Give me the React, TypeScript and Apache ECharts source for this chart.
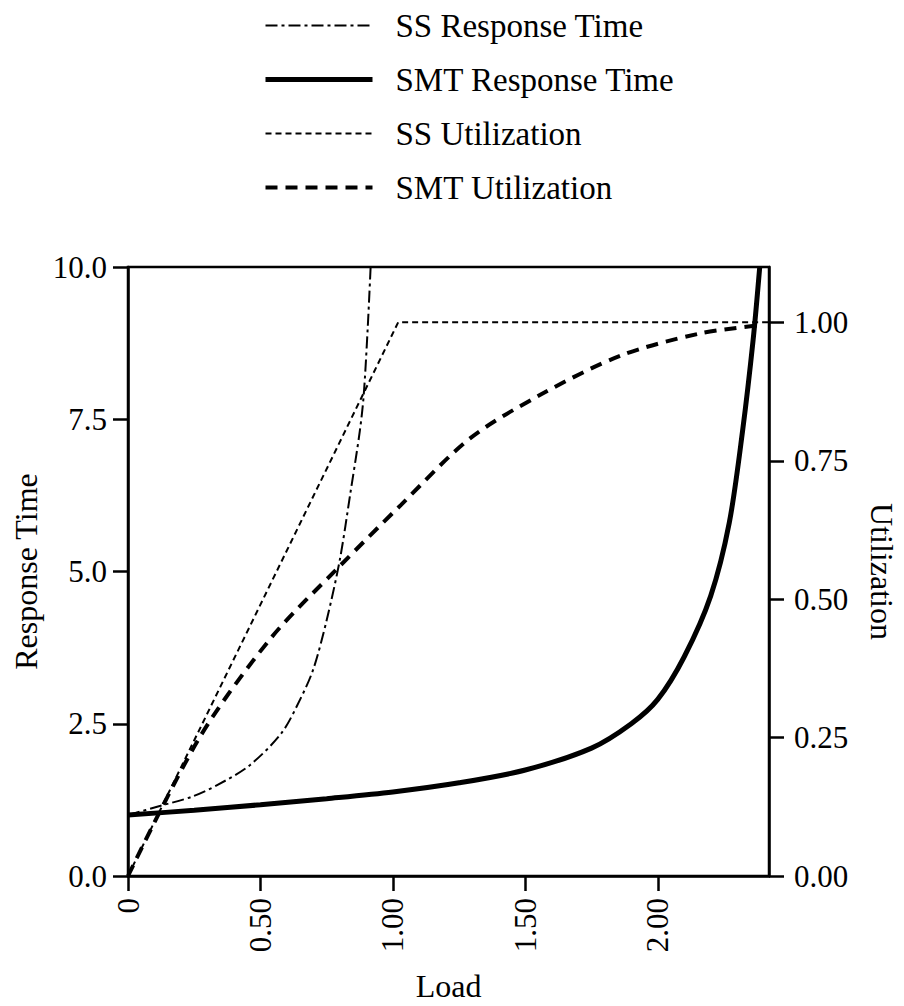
import React, { useEffect, useRef } from "react";
import * as echarts from "echarts";

const FONT = "Liberation Serif";

const seriesNames = ["SS Response Time", "SMT Response Time", "SS Utilization", "SMT Utilization"];

// Load (x) and response time (left axis)
const ssResponse: [number, number][] = [
  [0, 1.0], [0.12, 1.15], [0.24, 1.3], [0.34, 1.5], [0.46, 1.82], [0.58, 2.35],
  [0.65, 2.9], [0.7, 3.4], [0.75, 4.2], [0.8, 5.2], [0.84, 6.3], [0.875, 7.3],
  [0.89, 7.9], [0.905, 9.0], [0.916, 10.0],
];
const smtResponse: [number, number][] = [
  [0, 1.0], [0.25, 1.08], [0.5, 1.17], [0.75, 1.27], [1.0, 1.38], [1.25, 1.53],
  [1.5, 1.74], [1.75, 2.1], [1.9, 2.5], [2.0, 2.9], [2.1, 3.6], [2.2, 4.6],
  [2.27, 5.8], [2.32, 7.3], [2.36, 8.8], [2.385, 10.0],
];
// Load (x) and utilization (right axis)
const ssUtil: [number, number][] = [[0, 0], [1.02, 1.0], [2.42, 1.0]];
const smtUtil: [number, number][] = [
  [0, 0], [0.27, 0.25], [0.54, 0.43], [0.8, 0.56], [1.03, 0.67], [1.29, 0.79],
  [1.56, 0.87], [1.86, 0.94], [2.16, 0.98], [2.39, 0.995],
];

const xTicks = [0, 0.5, 1.0, 1.5, 2.0];
const leftTicks = [0, 2.5, 5.0, 7.5, 10.0];
const rightTicks = [0, 0.25, 0.5, 0.75, 1.0];

export default function App() {
  const ref = useRef<HTMLDivElement>(null);
  useEffect(() => {
    const chart = echarts.init(ref.current!, null, { renderer: "svg" });
    const axisLine = { show: true, lineStyle: { color: "#000", width: 2.5 } };
    const axisTick = { show: true, length: 15, lineStyle: { color: "#000", width: 2.5 } };
    const labelStyle = { color: "#000", fontFamily: FONT, fontSize: 31 };
    const nameStyle = { color: "#000", fontFamily: FONT, fontSize: 32 };
    chart.setOption({
      animation: false,
      backgroundColor: "#fff",
      legend: {
        orient: "vertical",
        left: 258,
        top: 4,
        itemWidth: 107,
        itemHeight: 14,
        itemGap: 21,
        data: seriesNames,
        itemStyle: { opacity: 0 },
        lineStyle: { width: "inherit" },
        textStyle: { color: "#000", fontFamily: FONT, fontSize: 33, lineHeight: 32, padding: [0, 0, 0, 18] },
      },
      grid: {
        left: 128,
        right: 135,
        top: 267,
        bottom: 130,
        containLabel: false,
        outerBoundsMode: "none",
        show: true,
        borderColor: "#000",
        borderWidth: 2.5,
      },
      xAxis: {
        type: "value",
        min: 0,
        max: 2.42,
        name: "Load",
        nameLocation: "middle",
        nameGap: 94,
        nameTextStyle: nameStyle,
        splitLine: { show: false },
        axisLine,
        axisTick: { ...axisTick, customValues: xTicks },
        axisLabel: {
          ...labelStyle,
          rotate: 90,
          margin: 22,
          customValues: xTicks,
          formatter: (v: number) => (v === 0 ? "0" : v.toFixed(2)),
        },
      },
      yAxis: [
        {
          type: "value",
          min: 0,
          max: 10,
          position: "left",
          name: "Response Time",
          nameLocation: "middle",
          nameGap: 75,
          nameRotate: 90,
          nameTextStyle: nameStyle,
          splitLine: { show: false },
          axisLine,
          axisTick: { ...axisTick, customValues: leftTicks },
          axisLabel: {
            ...labelStyle,
            margin: 21,
            customValues: leftTicks,
            formatter: (v: number) => v.toFixed(1),
          },
        },
        {
          type: "value",
          min: 0,
          max: 1.1,
          position: "right",
          name: "Utilization",
          nameLocation: "middle",
          nameGap: 97,
          nameRotate: -90,
          nameTextStyle: nameStyle,
          splitLine: { show: false },
          axisLine,
          axisTick: { ...axisTick, customValues: rightTicks },
          axisLabel: {
            ...labelStyle,
            margin: 25,
            customValues: rightTicks,
            formatter: (v: number) => v.toFixed(2),
          },
        },
      ],
      series: [
        {
          name: seriesNames[0],
          type: "line",
          yAxisIndex: 0,
          data: ssResponse,
          smooth: 0.3,
          symbol: "none",
          lineStyle: { color: "#000", width: 2, type: [12, 4, 3, 4] },
          itemStyle: { color: "#000" },
        },
        {
          name: seriesNames[1],
          type: "line",
          yAxisIndex: 0,
          data: smtResponse,
          smooth: 0.3,
          symbol: "none",
          lineStyle: { color: "#000", width: 5, type: "solid" },
          itemStyle: { color: "#000" },
        },
        {
          name: seriesNames[2],
          type: "line",
          yAxisIndex: 1,
          data: ssUtil,
          symbol: "none",
          lineStyle: { color: "#000", width: 2, type: [6, 4] },
          itemStyle: { color: "#000" },
        },
        {
          name: seriesNames[3],
          type: "line",
          yAxisIndex: 1,
          data: smtUtil,
          smooth: 0.3,
          symbol: "none",
          lineStyle: { color: "#000", width: 4, type: [12, 8] },
          itemStyle: { color: "#000" },
        },
      ],
    });
    return () => chart.dispose();
  }, []);
  return (
    <div
      ref={ref}
      style={{ position: "fixed", left: 0, top: 0, width: 904, height: 1006, background: "#fff" }}
    />
  );
}
